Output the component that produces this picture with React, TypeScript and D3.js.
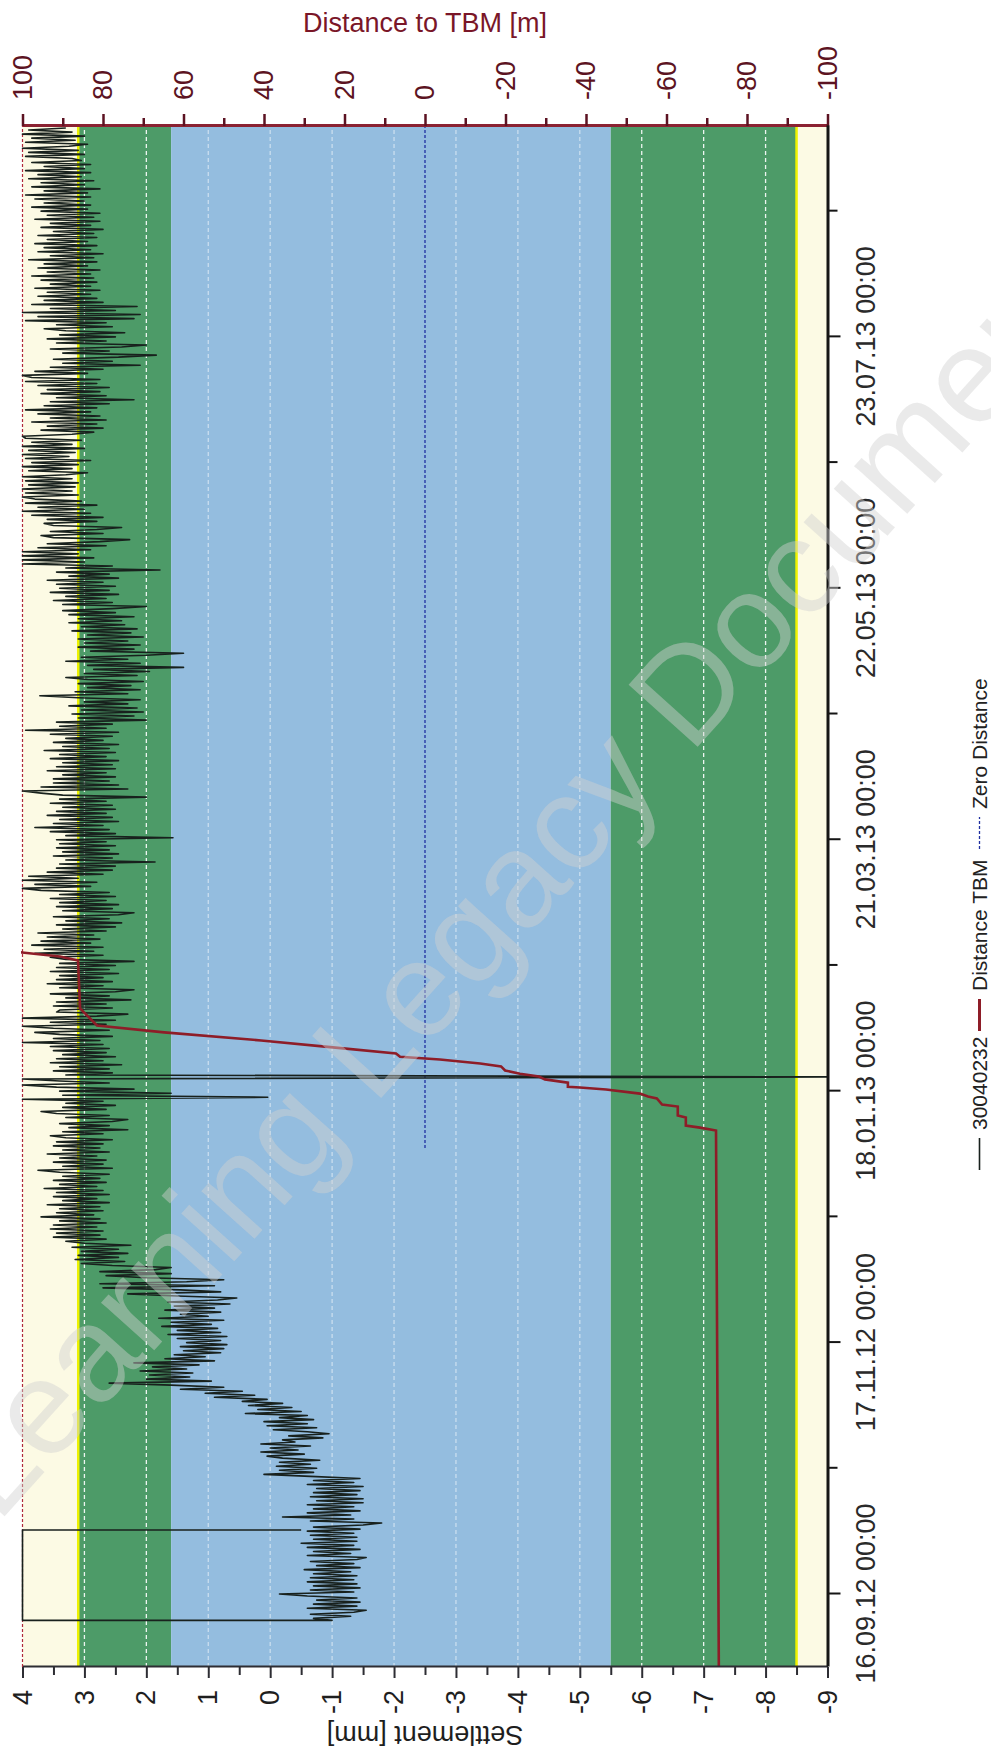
import React, { useEffect, useRef } from "react";
import * as d3 from "d3";

// ---------- axis definitions ----------
const BASE_DAY = Date.UTC(2012, 8, 16); // 16.09.12 00:00 (day 0)
const DAY_MS = 86400000;
const TIME_DOMAIN = [Date.UTC(2012, 7, 29), Date.UTC(2013, 8, 13)];
const TIME_MAJOR_TICKS = [
  Date.UTC(2012, 8, 16), Date.UTC(2012, 10, 17), Date.UTC(2013, 0, 18),
  Date.UTC(2013, 2, 21), Date.UTC(2013, 4, 22), Date.UTC(2013, 6, 23),
];
const TIME_MINOR_TICKS = [
  Date.UTC(2012, 9, 17), Date.UTC(2012, 11, 18), Date.UTC(2013, 1, 18),
  Date.UTC(2013, 3, 21), Date.UTC(2013, 5, 22), Date.UTC(2013, 7, 23),
];
const SETTLEMENT_TICKS = [4, 3, 2, 1, 0, -1, -2, -3, -4, -5, -6, -7, -8, -9];
const SETTLEMENT_MINOR = [3.5, 2.5, 1.5, 0.5, -0.5, -1.5, -2.5, -3.5, -4.5, -5.5, -6.5, -7.5, -8.5];
const DISTANCE_TICKS = [100, 80, 60, 40, 20, 0, -20, -40, -60, -80, -100];
const DISTANCE_MINOR = [90, 70, 50, 30, 10, -10, -30, -50, -70, -90];
const GRID_GREEN = [3, 2, -6, -7, -8];
const GRID_BLUE = [1, 0, -1, -2, -3, -4, -5];

// limit bands (settlement mm)
const BAND_EDGES = [4, 3.1, 1.6, -5.5, -8.5, -9];
const BAND_COLORS = ["#fcfae4", "#4d9b68", "#94bddf", "#4d9b68", "#fcfae4"];
const LIMIT_LINES = [3.1, -8.5];

// ---------- series 30040232 (settlement, mm), 0.5-day readings from day -6 ----------
const SETTLEMENT_START_DAY = -6;
const SETTLEMENT_STEP_DAYS = 0.5;
const settlementFirstReadings: [number, number][] = [
  [15.8, -0.5], [15.8, 4.0], [-6.5, 4.0], [-6.5, -1.0],
];
const settlementA = [
  -0.7,-1.3,-0.65,-1.35,-1.55,-0.6,-1.4,-0.7,-1.45,-0.75,-1.4,-0.6,-0.15,-1.35,-0.65,-1.45,-0.7,-1.4,-0.6,-1.35,
  -0.65,-1.4,-0.7,-1.3,-0.55,-1.45,-0.75,-1.35,-0.65,-1.4,-1.55,-0.6,-1.3,-0.7,-1.45,-0.6,-1.35,-0.5,-1.4,-0.7,
  -1.4,-0.65,-1.35,-0.6,-1.45,-0.7,-1.5,-1.8,-0.65,-1.35,-0.2,-1.3,-0.6,-1.45,-0.7,-1.35,-0.6,-1.5,-0.75,-1.5,
  -0.65,-1.4,-0.7,-1.45,-0.75,-1.5,-0.6,-1.35,-0.7,-1.45,-0.65,0.1,-0.7,-0.15,-0.75,-0.1,-0.65,-0.15,-0.8,-0.2,
  0.05,-0.55,0.15,-0.45,0.0,-0.65,0.15,-0.4,-0.2,-0.85,-0.3,-0.95,-0.6,-0.05,-0.75,0.05,-0.6,0.1,-0.7,-0.15,
  -0.6,0.4,-0.5,0.2,-0.35,0.35,-0.2,0.45,0.05,0.9,0.25,1.05,0.45,1.45,0.75,1.6,2.6,0.95,2.0,1.3,
];
const settlementB = [
  1.95,1.25,2.1,1.35,1.9,1.15,2.2,0.9,1.7,1.05,1.55,0.8,1.4,0.75,1.45,0.7,1.35,0.8,1.5,0.7,
  1.65,0.8,1.5,0.85,1.75,0.95,1.6,0.75,1.8,1.0,1.45,0.8,1.7,0.9,1.55,0.65,1.65,0.85,0.54,1.5,
  2.3,0.8,1.45,2.7,0.9,2.75,1.35,0.75,2.0,2.65,1.6,2.75,1.85,1.6,2.55,3.05,2.35,3.15,2.45,3.1,
  2.3,3.05,2.45,3.2,2.25,3.0,3.3,2.65,3.5,2.75,3.45,2.7,3.55,2.8,3.5,2.65,3.4,2.75,3.7,2.85,
  3.45,2.7,3.4,2.75,3.6,2.6,3.35,2.8,3.5,2.6,3.45,2.7,3.65,2.8,3.4,2.65,3.5,2.75,3.35,2.6,
  3.4,3.75,2.55,3.35,2.7,3.5,2.65,3.4,2.8,3.6,2.6,3.35,2.75,3.5,2.7,3.45,2.55,3.3,3.55,2.7,
];
const settlementC = [
  3.35,2.3,3.25,2.6,3.4,2.55,2.3,3.3,2.6,3.45,3.7,2.65,3.35,2.5,3.3,2.7,4.0,0.04,3.35,1.6,
  3.4,2.2,3.45,4.0,2.6,3.4,4.0,-9.3,3.3,2.55,3.5,2.6,3.4,2.4,3.55,2.7,3.45,2.5,3.35,2.65,
  3.5,2.6,3.55,2.7,4.0,2.75,3.5,2.55,3.4,3.8,2.6,3.5,4.0,2.65,3.55,2.5,4.0,2.8,2.3,3.45,
  3.4,2.55,3.5,2.65,3.45,2.25,3.3,2.6,3.55,2.5,2.2,3.4,2.7,3.6,2.55,3.45,2.7,3.4,2.45,3.55,
  2.6,3.45,2.5,3.4,2.2,3.3,3.55,2.7,3.8,2.85,3.65,2.7,3.85,2.9,3.7,2.75,3.6,2.85,3.75,2.65,
  3.35,2.5,3.45,2.4,3.3,2.6,3.5,2.45,2.2,3.35,2.55,3.45,2.45,3.4,2.65,3.55,2.5,3.4,2.6,3.7,
];
const settlementD = [
  4.0,2.9,3.8,2.8,4.0,3.1,3.9,2.7,3.6,2.55,3.45,2.5,3.4,1.86,3.3,2.55,3.5,2.45,3.35,2.6,
  3.45,2.5,3.4,2.65,3.45,1.57,3.3,2.5,3.55,2.6,3.8,2.7,3.5,2.45,3.4,2.55,3.6,2.65,3.45,2.5,
  3.35,2.55,3.55,2.65,3.4,2.0,3.35,3.7,4.0,2.3,3.7,2.45,3.5,2.6,3.5,2.5,3.35,2.65,3.6,2.5,
  3.45,2.55,3.35,2.45,3.55,2.65,3.4,2.5,3.65,2.6,3.35,2.45,3.5,2.7,3.3,2.55,3.55,2.45,3.95,2.65,
  3.4,2.55,3.45,2.0,3.1,2.2,3.2,2.05,3.05,2.15,3.25,2.3,3.0,2.1,3.1,3.72,2.3,3.15,2.1,2.95,
  2.25,3.1,2.05,2.95,3.3,2.15,3.0,1.95,2.85,1.4,2.95,2.1,3.3,2.3,3.05,2.0,1.4,2.9,2.2,3.1,
];
const settlementE = [
  2.1,3.0,2.3,3.1,2.05,2.95,2.25,3.2,2.15,3.05,2.35,3.25,2.4,3.1,2.2,3.25,2.5,3.35,2.55,2.0,
  3.35,2.55,3.5,2.65,3.3,2.45,3.55,2.6,3.4,2.5,3.45,2.7,3.6,2.45,3.25,2.6,3.45,1.78,3.3,2.55,
  4.0,3.0,4.0,2.85,4.0,3.1,4.0,2.9,3.75,2.65,3.6,2.75,2.27,3.5,3.7,2.7,3.55,2.8,2.4,3.5,
  3.65,2.8,3.6,2.7,3.85,2.9,4.0,3.0,3.75,2.8,3.95,3.05,3.8,4.0,3.1,3.95,3.2,4.0,3.15,3.9,
  3.1,3.95,3.2,4.0,3.3,2.95,3.9,3.2,4.0,3.1,3.85,2.9,3.95,3.25,4.0,3.15,3.9,3.0,4.0,3.2,
  3.85,3.05,3.95,4.0,3.2,2.85,3.7,2.7,3.6,2.8,3.85,2.65,3.55,2.75,3.75,2.9,3.95,2.8,3.65,2.6,
];
const settlementF = [
  3.55,2.2,3.45,2.65,3.7,2.75,3.6,2.6,3.75,2.8,3.95,2.75,3.85,4.0,2.95,3.8,2.7,3.55,2.1,3.35,
  2.55,3.5,2.45,1.84,3.35,2.6,3.55,2.4,2.0,3.45,2.65,3.6,2.5,3.4,2.35,3.3,3.65,2.55,3.45,2.65,
  3.95,2.2,3.75,2.1,4.0,2.5,3.55,2.15,3.85,2.7,3.65,2.8,3.75,2.9,3.6,2.75,3.8,2.9,3.55,2.8,
  3.7,2.85,3.85,2.9,3.6,2.75,3.75,2.95,3.65,2.8,3.9,2.85,3.55,2.7,3.75,2.9,3.65,2.8,3.8,2.95,
  3.6,2.8,3.75,2.85,3.5,2.7,3.7,2.9,3.55,2.75,3.8,2.85,3.6,2.75,3.7,2.95,3.85,2.9,3.65,3.0,
  3.8,2.9,3.95,2.95,3.65,2.75,3.85,3.0,3.7,2.85,3.9,3.05,3.75,2.9,3.95,3.0,3.65,2.9,3.85,3.05,
  3.2,3.95,3.0,3.9,3.1,4.0,3.25,2.95,3.95,3.15,3.85,3.0,4.0,3.2,3.9,3.3,
];

// ---------- Distance TBM (m) ----------
const distanceDays = [
  -18, 114.3, 115.0, 115.5, 117.5, 118.0, 120.2, 120.7, 122.2, 122.7, 123.4, 124.4, 124.9,
  125.1, 126.1, 126.9, 127.6, 128.3, 129.1, 130.1, 130.8, 131.8, 132.5, 133.3, 134.8, 136.5,
  138.5, 140.2, 144.4, 156.2, 157.2, 158.2, 158.6,
];
const distanceValues = [
  -73.0, -72.3, -68.3, -64.8, -64.8, -62.8, -62.8, -58.9, -57.6, -55.4, -53.4, -45.0, -38.5,
  -35.5, -35.5, -29.8, -28.3, -23.6, -19.9, -18.9, -13.7, -3.7, 6.2, 7.2, 22.9, 40.7,
  64.8, 81.5, 85.7, 86.2, 90.7, 100.1, 104,
];
const ZERO_DISTANCE_START_DAY = 110;

const LEGEND_ITEMS = ["30040232", "Distance TBM", "Zero Distance"];

const FONT = "'Liberation Sans', Arial, Helvetica, sans-serif";

export default function App() {
  const ref = useRef<SVGSVGElement>(null);

  useEffect(() => {
    const svg = d3.select(ref.current);
    svg.selectAll("*").remove();

    const W = 1541; // time axis length
    const H = 805; // settlement axis length
    const OX = 22.5;
    const OY = 1667;

    const dayToDate = (d: number) => new Date(BASE_DAY + d * DAY_MS);

    const x = d3.scaleUtc().domain(TIME_DOMAIN.map((t) => new Date(t))).range([0, W]);
    const y = d3.scaleLinear().domain([4, -9]).range([0, H]);
    const yd = d3.scaleLinear().domain([100, -100]).range([0, H]);

    const defs = svg.append("defs");
    defs.append("clipPath").attr("id", "plotClip")
      .append("rect").attr("x", 0).attr("y", -1.5).attr("width", W).attr("height", H + 3);

    const g = svg.append("g")
      .attr("transform", `translate(${OX},${OY}) rotate(-90)`)
      .style("font-family", FONT);

    // bands
    for (let i = 0; i < BAND_COLORS.length; i++) {
      g.append("rect")
        .attr("x", 0).attr("width", W)
        .attr("y", y(BAND_EDGES[i]))
        .attr("height", y(BAND_EDGES[i + 1]) - y(BAND_EDGES[i]))
        .attr("fill", BAND_COLORS[i]);
    }
    // grid
    const drawGrid = (vals: number[], op: number) =>
      g.selectAll(null).data(vals).enter().append("line")
        .attr("x1", 0).attr("x2", W)
        .attr("y1", (d) => y(d)).attr("y2", (d) => y(d))
        .attr("stroke", "#ffffff").attr("stroke-opacity", op)
        .attr("stroke-width", 1.3).attr("stroke-dasharray", "4,3");
    drawGrid(GRID_GREEN, 0.9);
    drawGrid(GRID_BLUE, 0.5);
    // limit lines
    g.selectAll(null).data(LIMIT_LINES).enter().append("line")
      .attr("x1", 0).attr("x2", W)
      .attr("y1", (d) => y(d)).attr("y2", (d) => y(d))
      .attr("stroke", "#eef200").attr("stroke-width", 2.5);
    // top border dashed red
    g.append("line").attr("x1", 0).attr("x2", W).attr("y1", 0).attr("y2", 0)
      .attr("stroke", "#b0283a").attr("stroke-width", 1.2).attr("stroke-dasharray", "3,2");

    // zero distance
    g.append("line")
      .attr("x1", x(dayToDate(ZERO_DISTANCE_START_DAY))).attr("x2", W)
      .attr("y1", yd(0)).attr("y2", yd(0))
      .attr("stroke", "#1f2fa0").attr("stroke-width", 1.3).attr("stroke-dasharray", "3,2");

    // settlement series
    const settlementValues = [
      ...settlementA, ...settlementB, ...settlementC, ...settlementD, ...settlementE, ...settlementF,
    ];
    const settlementPoints: [number, number][] = [
      ...settlementFirstReadings,
      ...settlementValues.map((v, i) => [SETTLEMENT_START_DAY + i * SETTLEMENT_STEP_DAYS, v] as [number, number]),
    ];
    const line = d3.line<[number, number]>()
      .x((p) => x(dayToDate(p[0])))
      .y((p) => y(p[1]));
    g.append("path")
      .attr("d", line(settlementPoints))
      .attr("fill", "none").attr("stroke", "#18211d").attr("stroke-width", 1.6)
      .attr("stroke-linejoin", "round")
      .attr("clip-path", "url(#plotClip)");

    // distance TBM
    const distPoints: [number, number][] = distanceDays.map((d, i) => [d, distanceValues[i]]);
    const dline = d3.line<[number, number]>()
      .x((p) => x(dayToDate(p[0])))
      .y((p) => yd(p[1]));
    g.append("path")
      .attr("d", dline(distPoints))
      .attr("fill", "none").attr("stroke", "#8e1d28").attr("stroke-width", 2.6)
      .attr("clip-path", "url(#plotClip)");

    // ---- axes ----
    const styleAxis = (sel: any, color: string, width: number, textColor: string) => {
      sel.select(".domain").attr("stroke", color).attr("stroke-width", width);
      sel.selectAll(".tick line").attr("stroke", color).attr("stroke-width", 2);
      sel.selectAll(".tick text").attr("fill", textColor).style("font-size", "27px").style("font-family", FONT);
    };

    // settlement (left in unrotated frame)
    const axL = g.append("g").call(
      d3.axisLeft(y).tickValues(SETTLEMENT_TICKS).tickSize(11).tickPadding(12).tickSizeOuter(0)
        .tickFormat((d: any) => String(d))
    );
    styleAxis(axL, "#2d2d33", 2.2, "#1e1e1e");
    const axLm = g.append("g").call(
      d3.axisLeft(y).tickValues(SETTLEMENT_MINOR).tickSize(8).tickSizeOuter(0).tickFormat(() => "")
    );
    axLm.select(".domain").remove();
    axLm.selectAll(".tick line").attr("stroke", "#2d2d33").attr("stroke-width", 2);

    // distance (right)
    const axR = g.append("g").attr("transform", `translate(${W},0)`).call(
      d3.axisRight(yd).tickValues(DISTANCE_TICKS).tickSize(12).tickPadding(14).tickSizeOuter(0)
        .tickFormat((d: any) => String(d))
    );
    styleAxis(axR, "#8b2232", 3, "#5c1322");
    axR.selectAll(".tick line").attr("stroke", "#5c1322").attr("stroke-width", 2.5);
    const axRm = g.append("g").attr("transform", `translate(${W},0)`).call(
      d3.axisRight(yd).tickValues(DISTANCE_MINOR).tickSize(8).tickSizeOuter(0).tickFormat(() => "")
    );
    axRm.select(".domain").remove();
    axRm.selectAll(".tick line").attr("stroke", "#5c1322").attr("stroke-width", 2.5);

    // time (bottom)
    const fmt = d3.utcFormat("%d.%m.%y %H:%M");
    const axB = g.append("g").attr("transform", `translate(0,${H})`).call(
      d3.axisBottom(x).tickValues(TIME_MAJOR_TICKS.map((t) => new Date(t))).tickSize(13).tickPadding(15)
        .tickSizeOuter(0).tickFormat((d: any) => fmt(d))
    );
    styleAxis(axB, "#151515", 3, "#2a2a2a");
    const axBm = g.append("g").attr("transform", `translate(0,${H})`).call(
      d3.axisBottom(x).tickValues(TIME_MINOR_TICKS.map((t) => new Date(t))).tickSize(10)
        .tickSizeOuter(0).tickFormat(() => "")
    );
    axBm.select(".domain").remove();
    axBm.selectAll(".tick line").attr("stroke", "#151515").attr("stroke-width", 2);

    // axis titles
    g.append("text")
      .attr("transform", `translate(-68,${H / 2}) rotate(-90)`)
      .attr("text-anchor", "middle").attr("dominant-baseline", "central")
      .style("font-size", "27px").attr("fill", "#1e1e1e")
      .text("Settlement [mm]");
    g.append("text")
      .attr("transform", `translate(${W + 103},${H / 2}) rotate(90)`)
      .attr("text-anchor", "middle").attr("dominant-baseline", "central")
      .style("font-size", "27px").attr("fill", "#7a1628")
      .text("Distance to TBM [m]");

    // legend
    const LV = 957;
    const lg = g.append("g");
    const legendStarts = [497, 636, 818];
    const legendStyles = [
      { stroke: "#18211d", width: 1.6, dash: null },
      { stroke: "#8e1d28", width: 3, dash: null },
      { stroke: "#1f2fa0", width: 1.3, dash: "3,2" },
    ];
    LEGEND_ITEMS.forEach((label, i) => {
      const u0 = legendStarts[i];
      const ln = lg.append("line")
        .attr("x1", u0).attr("x2", u0 + 32).attr("y1", LV).attr("y2", LV)
        .attr("stroke", legendStyles[i].stroke).attr("stroke-width", legendStyles[i].width);
      if (legendStyles[i].dash) ln.attr("stroke-dasharray", legendStyles[i].dash as string);
      lg.append("text")
        .attr("x", u0 + 40).attr("y", LV)
        .attr("dominant-baseline", "central")
        .style("font-size", "21px").attr("fill", "#222")
        .text(label);
    });

    // watermark
    svg.append("text")
      .attr("transform", "translate(515,880) rotate(-48)")
      .attr("text-anchor", "middle").attr("dominant-baseline", "central")
      .style("font-family", FONT).style("font-size", "135px")
      .attr("fill", "#d0d0d0").attr("fill-opacity", 0.45)
      .text("Learning Legacy Document");
  }, []);

  return (
    <svg
      ref={ref}
      width={991}
      height={1758}
      style={{ position: "absolute", left: 0, top: 0, background: "#ffffff" }}
    />
  );
}
